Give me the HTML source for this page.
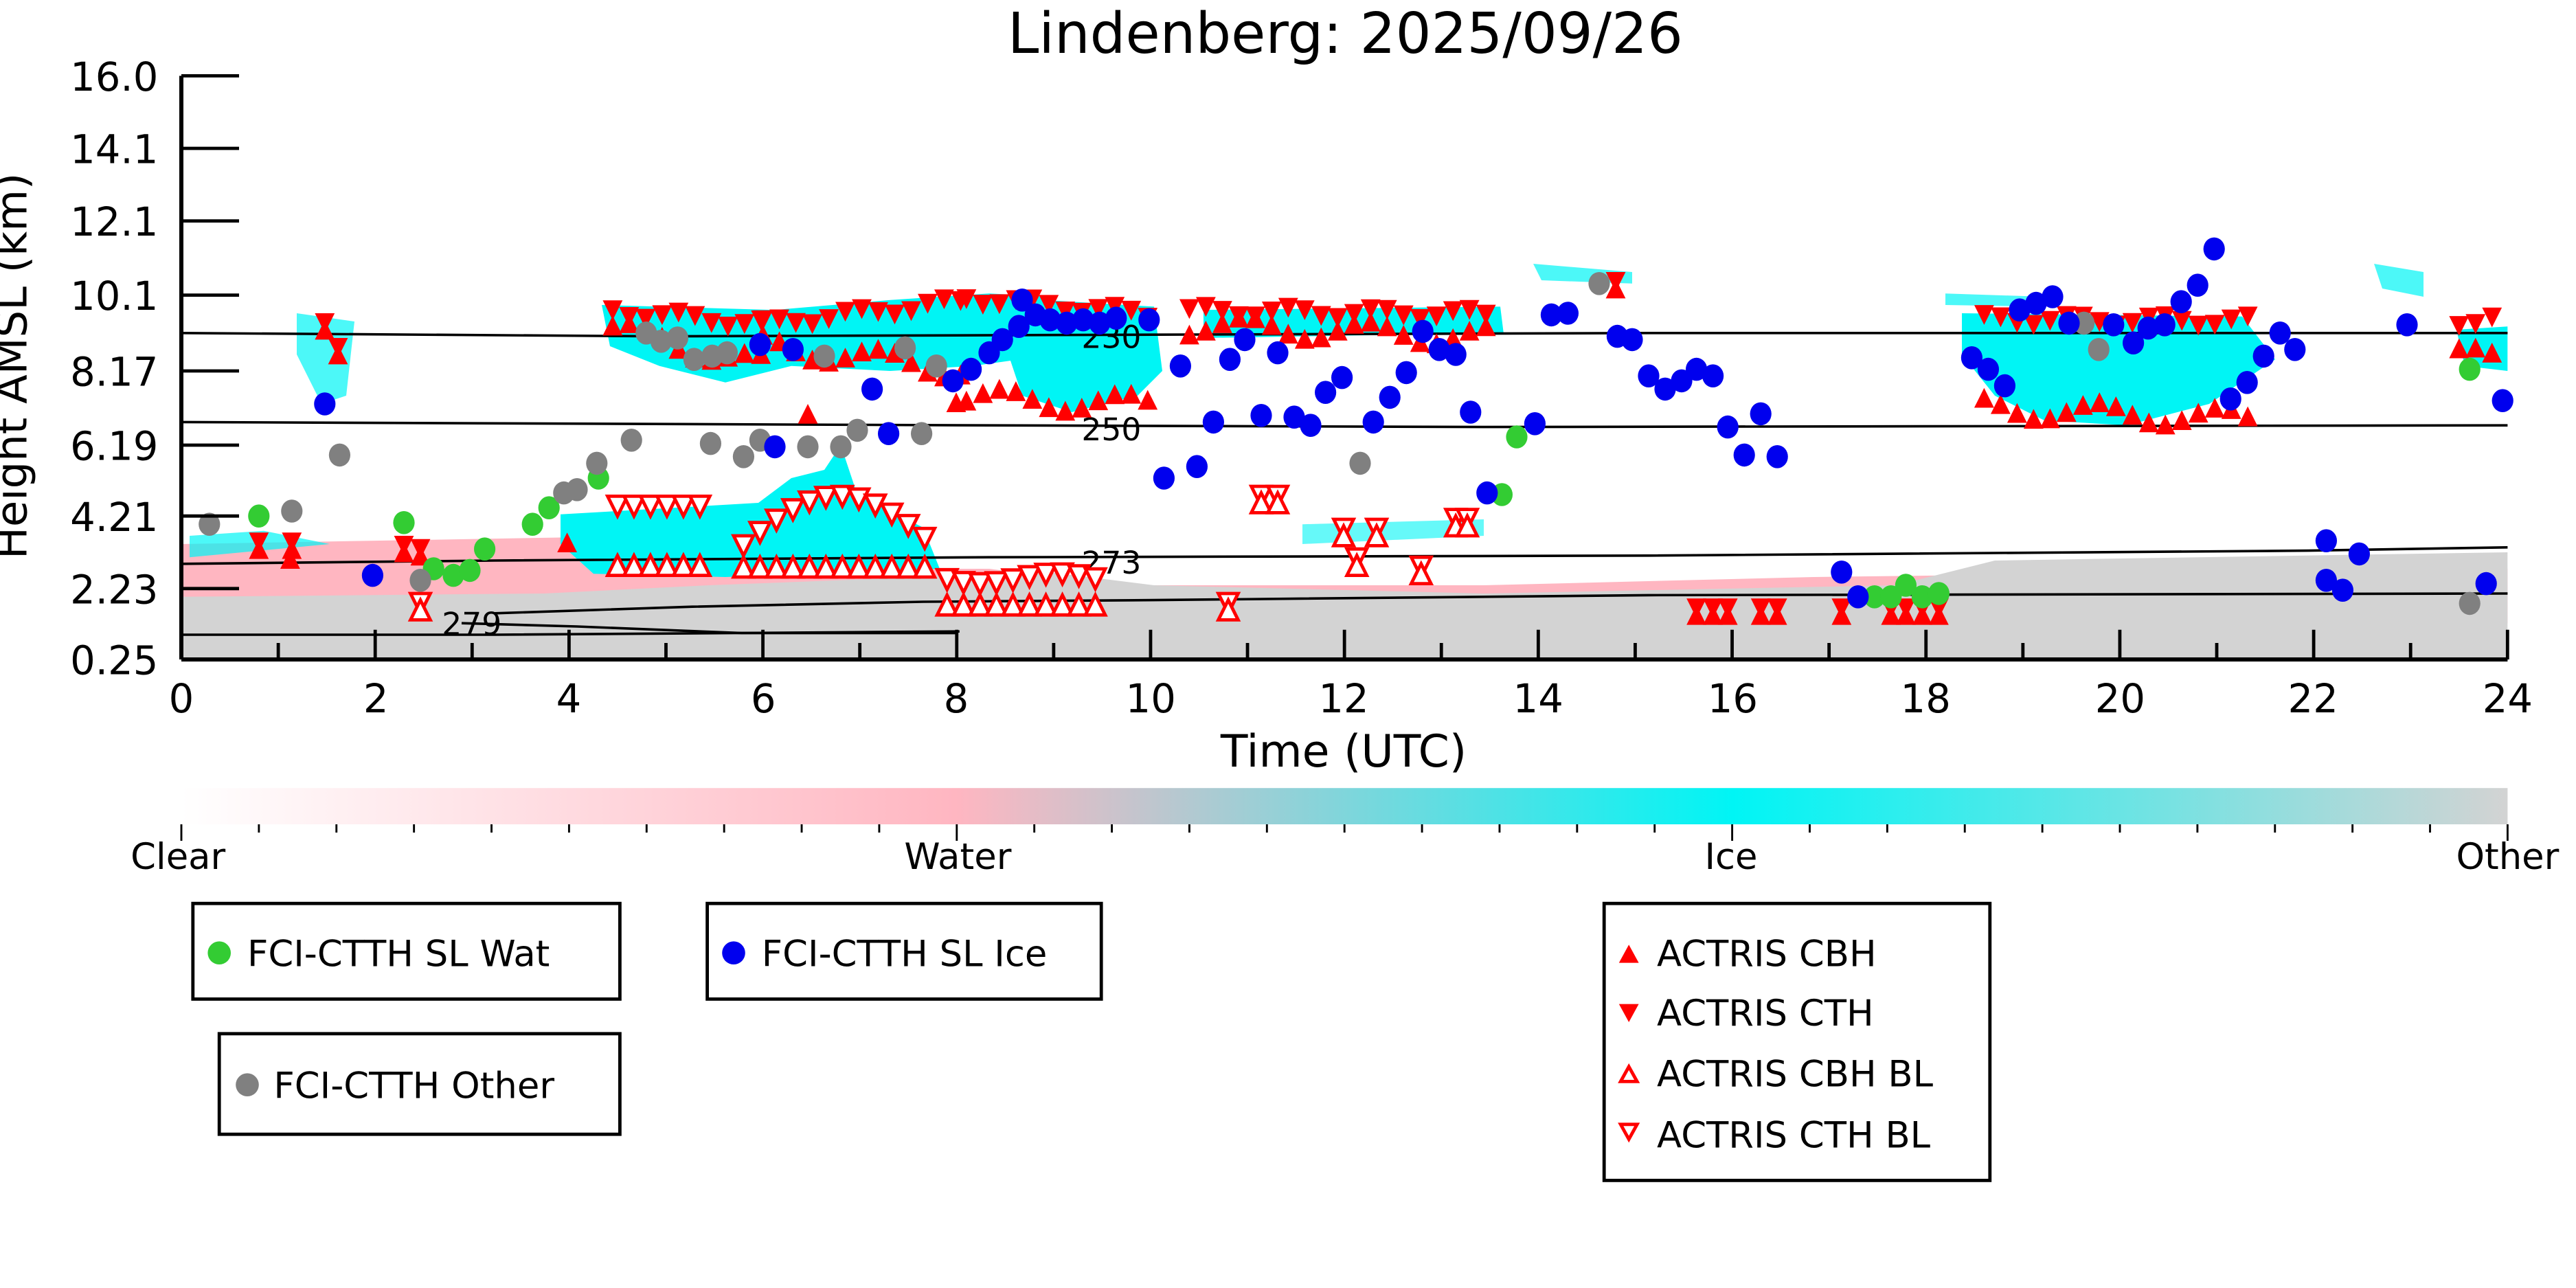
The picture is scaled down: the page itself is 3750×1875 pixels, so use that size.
<!DOCTYPE html>
<html><head><meta charset="utf-8"><style>html,body{margin:0;padding:0;background:#fff}svg{display:block}text{font-family:"DejaVu Sans","Liberation Sans",sans-serif}</style></head>
<body>
<svg id="s" xmlns="http://www.w3.org/2000/svg" width="3750" height="1875" viewBox="0 0 1562.5 781.25">
<defs>
<linearGradient id="cb" x1="0" x2="1" y1="0" y2="0">
<stop offset="0" stop-color="#ffffff"/><stop offset="0.333" stop-color="#ffb6c1"/><stop offset="0.667" stop-color="#00f5f5"/><stop offset="1" stop-color="#d3d3d3"/>
</linearGradient>
<clipPath id="pc"><rect x="110" y="46" width="1411" height="354"/></clipPath>
</defs>
<rect width="1562.5" height="781.25" fill="#fff"/>
<text x="816" y="32" font-size="34" text-anchor="middle">Lindenberg: 2025/09/26</text>
<g clip-path="url(#pc)" id="bg">
<!-- pink band -->
<path d="M110 330 L400 325 L420 350 L560 345 L600 345 L680 355 L900 355 L1100 350 L1521 345 L1521 378 L110 378Z" fill="#ffb6c1"/>
<!-- gray ground -->
<path d="M110 362 L330 360 L430 355 L560 350 L620 345 L700 355 L900 360 L1150 355 L1210 340 L1521 335 L1521 400 L110 400Z" fill="#d3d3d3"/>
<!-- cyan regions -->
<path d="M365 185 L470 188 L540 182 L600 178 L640 180 L640 215 L590 222 L540 225 L480 222 L440 232 L400 222 L370 210Z" fill="#00f5f5"/>
<path d="M600 180 L700 186 L705 225 L690 240 L650 250 L620 240 L610 210Z" fill="#00f5f5"/>
<path d="M730 188 L910 186 L912 202 L730 205Z" fill="#00f5f5"/>
<path d="M1190 190 L1360 192 L1380 218 L1340 245 L1290 258 L1240 255 L1210 240 L1190 215Z" fill="#00f5f5"/>
<path d="M340 312 L460 305 L480 290 L500 285 L510 270 L520 300 L560 320 L570 345 L440 350 L360 348 L340 330Z" fill="#00f5f5"/>
<path d="M1490 200 L1521 198 L1521 225 L1495 222Z" fill="#00f5f5"/>
<path d="M180 190 L215 195 L210 240 L195 245 L180 215Z" fill="#00f5f5" opacity="0.7"/>
<path d="M115 325 L160 322 L200 330 L115 338Z" fill="#00f5f5" opacity="0.7"/>
<path d="M790 318 L900 315 L900 325 L790 330Z" fill="#00f5f5" opacity="0.6"/>
<path d="M1180 178 L1240 180 L1240 186 L1180 185Z M1440 160 L1470 165 L1470 180 L1445 175Z M930 160 L990 165 L990 172 L935 170Z" fill="#00f5f5" opacity="0.7"/>
</g>
<!-- contour lines -->
<g fill="none" stroke="#000" stroke-width="1.5">
<path d="M110 202 L400 204 L700 203 L1000 202 L1521 202"/>
<path d="M110 256 L600 258 L900 259 L1521 258"/>
<path d="M110 342 L300 340 L600 338 L1000 337 L1400 334 L1521 332"/>
<path d="M300 372 L420 368 L560 365 L700 364 L1000 361 L1521 360"/>
<path d="M280 378 L350 380 L450 384 L580 384"/>
<path d="M110 385 L300 385 L582 383"/>
</g>
<g font-size="19">
<text x="656" y="211">230</text><text x="656" y="267">250</text><text x="656" y="348">273</text><text x="268" y="385">279</text>
</g>
<g id="mk"></g>
<!-- axes -->
<g stroke="#000" stroke-width="2.5" fill="none">
<line x1="110" y1="46" x2="110" y2="400"/><line x1="110" y1="400" x2="1521" y2="400"/>
</g>
<g id="ax" stroke="#000" stroke-width="2"></g>
<g font-size="24" text-anchor="end">
<text x="96" y="55">16.0</text><text x="96" y="99">14.1</text><text x="96" y="143">12.1</text><text x="96" y="188">10.1</text><text x="96" y="234">8.17</text><text x="96" y="279">6.19</text><text x="96" y="322">4.21</text><text x="96" y="366">2.23</text><text x="96" y="409">0.25</text>
</g>
<g font-size="24" text-anchor="middle">
<text x="110" y="432">0</text><text x="228" y="432">2</text><text x="345" y="432">4</text><text x="463" y="432">6</text><text x="580" y="432">8</text><text x="698" y="432">10</text><text x="815" y="432">12</text><text x="933" y="432">14</text><text x="1051" y="432">16</text><text x="1168" y="432">18</text><text x="1286" y="432">20</text><text x="1403" y="432">22</text><text x="1521" y="432">24</text>
<text x="815" y="465" font-size="27">Time (UTC)</text>
</g>
<text transform="translate(16,222) rotate(-90)" font-size="26" text-anchor="middle">Height AMSL (km)</text>
<!-- colorbar -->
<rect x="110" y="478" width="1411" height="22" fill="url(#cb)"/>
<g id="cbt" stroke="#000" stroke-width="1.2"></g>
<g font-size="22" text-anchor="middle">
<text x="108" y="527">Clear</text><text x="581" y="527">Water</text><text x="1050" y="527">Ice</text><text x="1521" y="527">Other</text>
</g>
<!-- legends -->
<g fill="none" stroke="#000" stroke-width="2">
<rect x="117" y="548" width="259" height="58"/><rect x="429" y="548" width="239" height="58"/>
<rect x="133" y="627" width="243" height="61"/><rect x="973" y="548" width="234" height="168"/>
</g>
<g font-size="22">
<circle cx="133" cy="578" r="7" fill="#33cc33"/><text x="150" y="586">FCI-CTTH SL Wat</text>
<circle cx="445" cy="578" r="7" fill="#0000ee"/><text x="462" y="586">FCI-CTTH SL Ice</text>
<circle cx="150" cy="658" r="7" fill="#808080"/><text x="166" y="666">FCI-CTTH Other</text>
<path d="M982 584 L994 584 L988 573Z" fill="#f00"/><text x="1005" y="586">ACTRIS CBH</text>
<path d="M982 609 L994 609 L988 620Z" fill="#f00"/><text x="1005" y="622">ACTRIS CTH</text>
<path d="M983 656 L993 656 L988 647Z" fill="none" stroke="#f00" stroke-width="2"/><text x="1005" y="659">ACTRIS CBH BL</text>
<path d="M983 682 L993 682 L988 691Z" fill="none" stroke="#f00" stroke-width="2"/><text x="1005" y="696">ACTRIS CTH BL</text>
</g>
<script>
(function(){
var NS="http://www.w3.org/2000/svg";
function el(p,n,a){var e=document.createElementNS(NS,n);for(var k in a)e.setAttribute(k,a[k]);p.appendChild(e);return e;}
var ax=document.getElementById("ax"),cbt=document.getElementById("cbt"),mk=document.getElementById("mk");
[46,90,134,179,225,270,313,357].forEach(function(y){el(ax,"line",{x1:110,x2:145,y1:y,y2:y});});
for(var i=0;i<=24;i++){var x=110+i*58.79;el(ax,"line",{x1:x,x2:x,y1:400,y2:i%2?390:382});}
for(var i=0;i<=30;i++){var x=110+i*1411/30;el(cbt,"line",{x1:x,x2:x,y1:500,y2:i%10?505:510});}
function dot(x,y,c){el(mk,"ellipse",{cx:x,cy:y,rx:6.5,ry:7,fill:c});}
function up(x,y,f){el(mk,"path",{d:"M"+(x-6)+" "+(y+5)+"L"+(x+6)+" "+(y+5)+"L"+x+" "+(y-7)+"Z",fill:f?"#f00":"#fff",stroke:"#f00","stroke-width":f?0:2});}
function dn(x,y,f){el(mk,"path",{d:"M"+(x-6)+" "+(y-5)+"L"+(x+6)+" "+(y-5)+"L"+x+" "+(y+7)+"Z",fill:f?"#f00":"#fff",stroke:"#f00","stroke-width":f?0:2});}
function X(h){return 110+h*58.79;}
// filled CTH / CBH series
var segs=[[4.45,6.0,188,196,200,222],[6.0,8.1,196,182,210,225],[8.1,10.0,180,190,242,246],[10.4,13.6,188,190,198,205],[18.6,21.4,193,194,248,255],[23.5,24,194,192,218,215]];
segs.forEach(function(s){for(var h=s[0];h<=s[1];h+=0.17){var t=(h-s[0])/(s[1]-s[0]);dn(X(h),s[2]+(s[3]-s[2])*t+Math.sin(h*7)*3,1);up(X(h),s[4]+(s[5]-s[4])*t+Math.sin(h*5)*6,1);}});
[[197,195],[205,210],[980,170],[157,328],[177,328],[245,330],[255,332]].forEach(function(p){dn(p[0],p[1],1);up(p[0],p[1]+6,1);});
[1029,1039,1048,1068,1078,1117,1147,1156,1166,1176].forEach(function(x){dn(x,368,1);up(x,374,1);});
[[580,245],[490,252],[344,330],[176,340]].forEach(function(p){up(p[0],p[1],1);});
// hollow BL
for(var h=4.5;h<=5.5;h+=0.17){dn(X(h),306,0);up(X(h),344,0);}
for(var h=5.8;h<=7.8;h+=0.17){dn(X(h),330-Math.sin((h-5.8)*1.6)*30,0);up(X(h),345,0);}
for(var h=7.9;h<=9.5;h+=0.17){dn(X(h),350+Math.sin(h*4)*3,0);up(X(h),368,0);}
[[765,300],[775,300],[835,320],[815,320],[883,314],[890,314],[745,365],[255,365],[862,343],[823,338]].forEach(function(p){dn(p[0],p[1],0);up(p[0],p[1]+6,0);});
// dots
var G="#33cc33",Y="#808080",B="#0000ee";
[[157,313],[245,317],[263,345],[275,349],[285,346],[294,333],[323,318],[333,308],[363,290],[920,265],[911,300],[1137,362],[1147,362],[1156,355],[1166,362],[1176,360],[1498,224]].forEach(function(p){dot(p[0],p[1],G);});
[[127,318],[177,310],[206,276],[255,352],[342,299],[350,297],[362,281],[383,267],[392,202],[401,207],[411,205],[421,218],[432,216],[441,214],[431,269],[451,277],[461,267],[490,271],[500,216],[510,271],[520,261],[549,211],[559,263],[568,222],[825,281],[970,172],[1264,196],[1273,212],[1498,366]].forEach(function(p){dot(p[0],p[1],Y);});
[[197,245],[226,349],[461,209],[470,271],[481,212],[529,236],[539,263],[578,231],[589,224],[600,214],[608,206],[618,198],[628,191],[620,182],[637,194],[647,196],[657,194],[667,196],[677,193],[697,194],[706,290],[716,222],[726,283],[736,256],[746,218],[755,206],[765,252],[775,214],[785,253],[795,258],[804,238],[814,229],[833,256],[843,241],[853,226],[863,201],[873,212],[883,215],[892,250],[902,299],[931,257],[941,191],[951,190],[981,204],[990,206],[1000,228],[1010,236],[1020,231],[1029,224],[1039,228],[1048,259],[1058,276],[1068,251],[1078,277],[1117,347],[1127,362],[1196,217],[1206,224],[1216,234],[1225,188],[1235,184],[1245,180],[1255,196],[1282,197],[1294,208],[1303,199],[1313,197],[1323,183],[1333,173],[1343,151],[1353,242],[1363,232],[1373,216],[1383,202],[1392,212],[1411,352],[1411,328],[1421,358],[1431,336],[1460,197],[1508,354],[1518,243]].forEach(function(p){dot(p[0],p[1],B);});
})();
</script>
</svg>
</body></html>
